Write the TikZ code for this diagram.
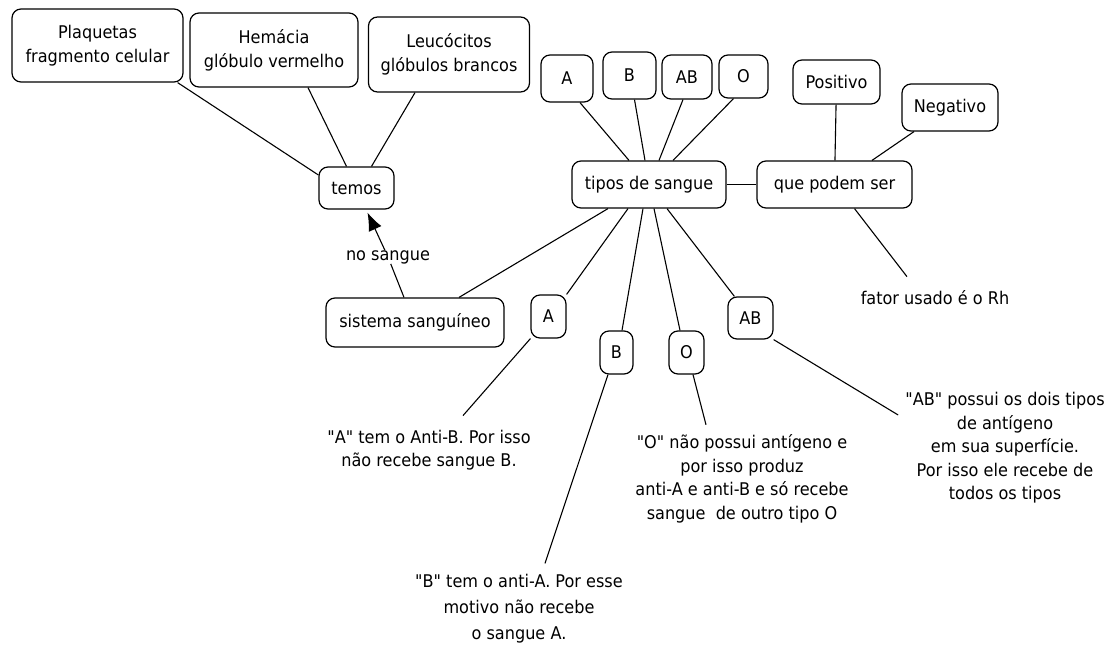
\documentclass[tikz,border=0pt]{standalone}
\usepackage{fontspec}
\setmainfont{DejaVu Sans}[FakeStretch=0.92, Ligatures=TeXOff]
\usetikzlibrary{arrows.meta}
\newcommand\mapboxfont{\fontsize{17.5}{24}\selectfont}
\newcommand\mapnotefont{\fontsize{17.5}{23.5}\selectfont}
\newcommand\mapwidefont{\fontsize{17.5}{26}\selectfont}

\begin{document}
\begin{tikzpicture}[x=1pt,y=-1pt,
  box/.style={draw, rounded corners=9pt, line width=1.2pt, inner sep=0pt,
              align=center, font=\mapboxfont},
  note/.style={inner sep=0pt, align=center, font=\mapnotefont},
  link/.style={line width=1.1pt},
]
\fill[white] (0,0) rectangle (1117,653);
\useasboundingbox (0,0) rectangle (1117,653);

% concept boxes
\node[box, minimum width=171pt, minimum height=73pt] (plaq) at (97.5,45.5) {Plaquetas\\fragmento celular};
\node[box, minimum width=168pt, minimum height=74pt] (hem) at (274,50) {Hemácia\\glóbulo vermelho};
\node[box, minimum width=161pt, minimum height=75pt] (leu) at (449,54.5) {Leucócitos\\glóbulos brancos};
\node[box, minimum width=75pt, minimum height=42pt] (temos) at (356.5,188) {temos};

\node[box, minimum width=52pt, minimum height=47pt] (ta) at (567,78.5) {A};
\node[box, minimum width=53pt, minimum height=47pt] (tb) at (629.5,75.5) {B};
\node[box, minimum width=50pt, minimum height=44pt] (tab) at (687,77) {AB};
\node[box, minimum width=49pt, minimum height=43pt] (to) at (743.5,76.5) {O};

\node[box, minimum width=154pt, minimum height=47pt] (tipos) at (649,184.5) {tipos de sangue};
\node[box, minimum width=155pt, minimum height=47pt] (que) at (834.5,184.5) {que podem ser};
\node[box, minimum width=87pt, minimum height=44pt] (pos) at (836.5,82) {Positivo};
\node[box, minimum width=96pt, minimum height=47pt] (neg) at (950,107.5) {Negativo};

\node[box, minimum width=178pt, minimum height=49pt] (sis) at (415,322.5) {sistema sanguíneo};
\node[box, minimum width=35pt, minimum height=43pt] (sa) at (548.5,316.5) {A};
\node[box, minimum width=33pt, minimum height=43pt] (sb) at (616.5,352.5) {B};
\node[box, minimum width=35pt, minimum height=43pt] (so) at (686.5,352.5) {O};
\node[box, minimum width=45pt, minimum height=42pt] (sab) at (750.5,318) {AB};

% free texts
\node[note] (nosangue) at (388,257) {no sangue};
\node[note] (fator) at (935,298) {fator usado é o Rh};
\node[note] (atxt) at (429,450) {"A" tem o Anti-B. Por isso\\não recebe sangue B.};
\node[note, font=\mapwidefont] (btxt) at (519,609) {"B" tem o anti-A. Por esse\\motivo não recebe\\o sangue A.};
\node[note] (otxt) at (742,479) {"O" não possui antígeno e\\por isso produz\\anti-A e anti-B e só recebe\\sangue~ de outro tipo O};
\node[note] (abtxt) at (1005,448) {"AB" possui os dois tipos\\de antígeno\\em sua superfície.\\Por isso ele recebe de\\todos os tipos};

% connectors
\draw[link] ([xshift=-6pt]plaq.south east) -- ([yshift=13pt]temos.west);
\draw[link] ([xshift=34pt]hem.south) -- ([xshift=-10pt]temos.north);
\draw[link] ([xshift=-34pt]leu.south) -- ([xshift=15pt]temos.north);

\draw[link] ([xshift=-11pt]sis.north) -- (nosangue);
\draw[link, -{Latex[length=18pt,width=14pt]}] (nosangue) -- ([xshift=11pt,yshift=-3pt]temos.south);

\draw[link] ([xshift=13pt]ta.south) -- ([xshift=-20pt]tipos.north);
\draw[link] ([xshift=5pt]tb.south) -- ([xshift=-4pt]tipos.north);
\draw[link] ([xshift=-4pt]tab.south) -- ([xshift=10pt]tipos.north);
\draw[link] ([xshift=-10pt]to.south) -- ([xshift=24pt]tipos.north);

\draw[link] (tipos) -- (que);
\draw[link] (pos) -- (que);
\draw[link] ([xshift=-36pt]neg.south) -- ([xshift=37.5pt]que.north);
\draw[link] ([xshift=20pt]que.south) -- ([xshift=-28pt,yshift=14pt]fator.north);

\draw[link] ([xshift=-41pt]tipos.south) -- ([xshift=44pt]sis.north);
\draw[link] ([xshift=-21pt]tipos.south) -- (sa.north east);
\draw[link] ([xshift=-6pt]tipos.south) -- ([xshift=5.5pt]sb.north);
\draw[link] ([xshift=5pt]tipos.south) -- ([xshift=-6.5pt]so.north);
\draw[link] ([xshift=18pt]tipos.south) -- ([xshift=7pt]sab.north west);

\draw[link] (sa.south west) -- ([xshift=34pt,yshift=14pt]atxt.north);
\draw[link] ([xshift=-8.5pt]sb.south) -- ([xshift=26pt,yshift=11pt]btxt.north);
\draw[link] ([xshift=6.5pt]so.south) -- ([xshift=-36pt,yshift=10pt]otxt.north);
\draw[link] (sab.south east) -- ([xshift=-7pt,yshift=33pt]abtxt.west);
\end{tikzpicture}
\end{document}
